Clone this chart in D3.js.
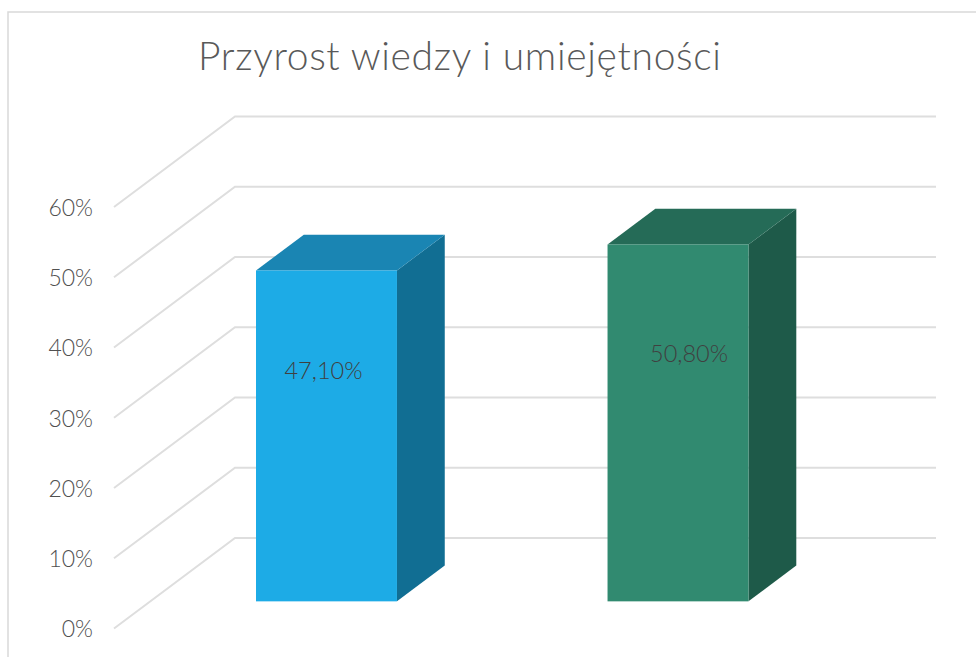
<!DOCTYPE html>
<html><head><meta charset="utf-8">
<script src="https://cdn.jsdelivr.net/npm/d3@7"></script>
<style>html,body{margin:0;padding:0;background:#fff}svg{display:block}text{font-family:Lato,"Open Sans",sans-serif}</style>
</head><body><svg id="c" width="976" height="657"></svg>
<script>
const chartTitle = "Przyrost wiedzy i umiejętności";
const categories = ["A", "B"];
const values = [47.1, 50.8];
const valueLabels = ["47,10%", "50,80%"];
const tickValues = [0, 10, 20, 30, 40, 50, 60];
const frontColors = ["#1dabe6", "#318a70"];
const topColors = ["#1a85b3", "#256b57"];
const sideColors = ["#116e93", "#1e5a49"];

const svg = d3.select("#c");
const W = 976, H = 657;
// frame
svg.append("path").attr("d", d3.line()([[8, H], [8, 12], [W, 12]]))
  .attr("fill", "none").attr("stroke", "#d9d9d9").attr("stroke-width", 1.5);

// front-plane value scale and depth projection
const y = d3.scaleLinear().domain([0, 60]).range([628.5, 207]);
const depthX = d3.scaleLinear().domain([0, 1]).range([0, 121]);
const depthY = d3.scaleLinear().domain([0, 1]).range([0, -90.5]);
const frontX0 = 114, rightEnd = 936;

// gridlines
const grid = svg.append("g");
grid.selectAll("path").data(tickValues).join("path")
  .attr("d", d => d3.line()([[frontX0, y(d)], [frontX0 + depthX(1), y(d) + depthY(1)], [rightEnd, y(d) + depthY(1)]]))
  .attr("fill", "none").attr("stroke", "#dedede").attr("stroke-width", 2);

// axis tick labels
const axis = d3.axisLeft(y).tickValues(tickValues).tickSize(0).tickPadding(0).tickFormat(d => d + "%");
const ag = svg.append("g").attr("transform", "translate(93,1)").call(axis);
ag.select(".domain").remove();
ag.selectAll("text").attr("font-size", 23).attr("font-weight", 300).attr("fill", "#505050")
  .style("font-family", "Lato,sans-serif");

// bars
const d0 = 0.30, d1 = 0.695;
const xBand = d3.scaleBand().domain(categories).range([256, 748.5]).paddingInner(0.599);
const labelDx = [-3, 11];
const labelDy = [-3, -7];
categories.forEach((c, i) => {
  const x0 = xBand(c), barW = xBand.bandwidth(), x1 = x0 + barW;
  const dx = depthX(d1 - d0), dy = depthY(d1 - d0);
  const base = y(0) + depthY(d0), topY = y(values[i]) + depthY(d0);
  const g = svg.append("g");
  g.append("path").attr("fill", sideColors[i])
    .attr("d", d3.line()([[x1, base], [x1 + dx, base + dy], [x1 + dx, topY + dy], [x1, topY]]) + "Z");
  g.append("path").attr("fill", topColors[i])
    .attr("d", d3.line()([[x0, topY], [x0 + dx, topY + dy], [x1 + dx, topY + dy], [x1, topY]]) + "Z");
  g.append("rect").attr("x", x0).attr("y", topY).attr("width", barW).attr("height", base - topY).attr("fill", frontColors[i]);
  g.append("text").attr("x", x0 + barW / 2 + labelDx[i]).attr("y", y(values[i] / 2) + depthY(1) + labelDy[i])
    .attr("text-anchor", "middle").attr("dominant-baseline", "central")
    .attr("font-size", 23.5).attr("font-weight", 300).attr("fill", "#404040").text(valueLabels[i]);
});

// title
svg.append("text").attr("x", 459.5).attr("y", 70).attr("text-anchor", "middle")
  .attr("textLength", 523).attr("lengthAdjust", "spacing")
  .attr("font-size", 39).attr("font-weight", 300).attr("fill", "#595959").text(chartTitle);
</script></body></html>
